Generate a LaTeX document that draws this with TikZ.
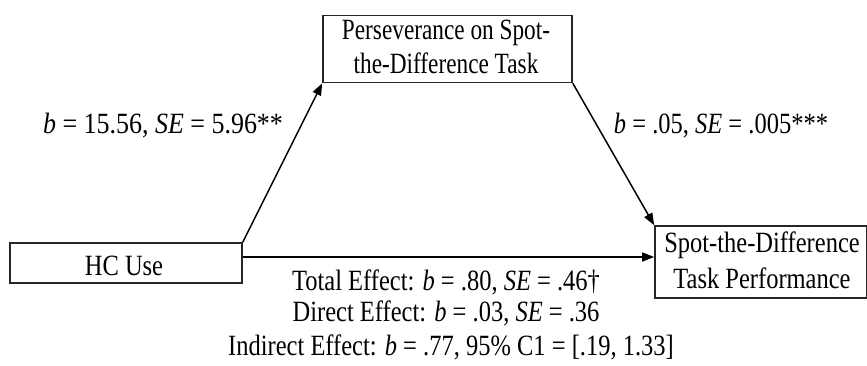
\documentclass[tikz,border=0pt]{standalone}
\usepackage{fontspec}
\setmainfont{Liberation Serif}
\usetikzlibrary{arrows.meta}
\begin{document}
\begin{tikzpicture}[x=1pt,y=-1pt,
  box/.style={draw=black!85,line width=1.6pt,inner sep=0pt},
  lbl/.style={font=\fontsize{24.5}{29}\selectfont,inner sep=0pt,yscale=1.2,xscale=1,transform shape},
  arr/.style={line width=1.5pt,-{Triangle[length=12pt,width=9pt]}}]
\useasboundingbox (0,0) rectangle (867,365);
\fill[white] (0,0) rectangle (867,365);
\node[box,minimum width=249pt,minimum height=67pt] (med) at (447.5,49) {};
\node[box,minimum width=232pt,minimum height=40pt] (hc) at (126,263) {};
\node[box,minimum width=212pt,minimum height=72pt] (out) at (761,262) {};
\node[lbl,xscale=0.95] (t1) at (446,33) {Perseverance on Spot-};
\node[lbl,xscale=0.95] (t2) at (446,63) {the-Difference Task};
\node[lbl] (t3) at (124,266) {HC Use};
\node[lbl] (t4) at (762,245) {Spot-the-Difference};
\node[lbl] (t5) at (762,278) {Task Performance};
\draw[arr] (hc.north east) -- (med.south west);
\draw[arr] (med.south east) -- (out.north west);
\draw[arr] ([yshift=6pt]hc.east) -- ([yshift=5pt]out.west);
\node[lbl,xscale=1.06] (la) at (163,126) {\textit{b} = 15.56, \textit{SE} = 5.96**};
\node[lbl] (lb) at (721,126) {\textit{b} = .05, \textit{SE} = .005***};
\node[lbl] (e1) at (446,282) {Total Effect: \textit{b} = .80, \textit{SE} = .46†};
\node[lbl] (e2) at (446,313) {Direct Effect: \textit{b} = .03, \textit{SE} = .36};
\node[lbl] (e3) at (451,347) {Indirect Effect: \textit{b} = .77, 95\% C1 = [.19, 1.33]};
\end{tikzpicture}
\end{document}
